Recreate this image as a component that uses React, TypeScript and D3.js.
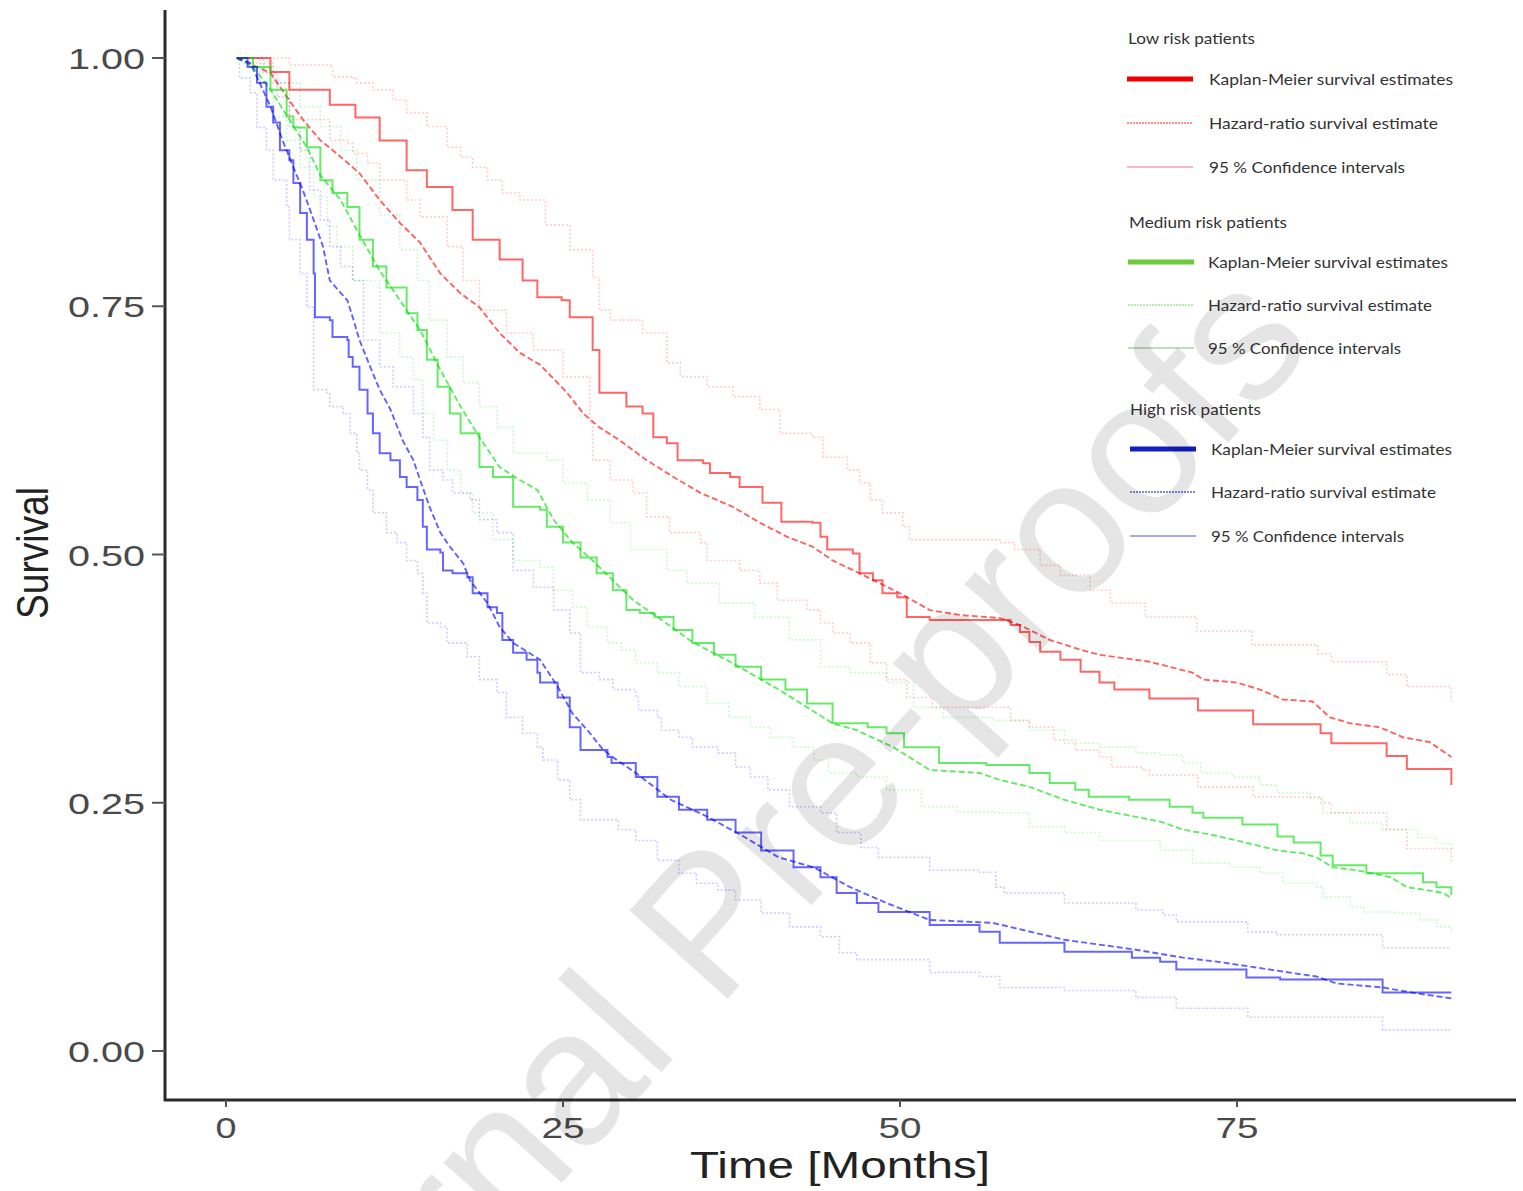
import React, { useEffect, useRef } from 'react';
import * as d3 from 'd3';

type Pt = [number, number];

// time (months), survival
const xTicks = [0, 25, 50, 75];
const yTicks = [0, 0.25, 0.5, 0.75, 1];

const lowKM: Pt[] = [[0.8, 1], [3.3, 0.986], [4.7, 0.968], [7.7, 0.953], [9.6, 0.94], [11.4, 0.917], [13.4, 0.887], [14.9, 0.87], [16.8, 0.847], [18.3, 0.817], [20.3, 0.797], [22.0, 0.776], [23.1, 0.759], [24.9, 0.756], [25.5, 0.739], [27.2, 0.706], [27.7, 0.663], [29.7, 0.649], [30.9, 0.642], [31.7, 0.618], [32.7, 0.612], [33.5, 0.595], [35.4, 0.592], [35.9, 0.582], [37.4, 0.578], [38.1, 0.568], [39.8, 0.552], [41.2, 0.533], [43.5, 0.532], [44.1, 0.518], [44.6, 0.505], [46.5, 0.501], [47.0, 0.481], [48.0, 0.474], [48.7, 0.461], [49.8, 0.457], [50.5, 0.437], [52.2, 0.434], [58.2, 0.429], [58.9, 0.422], [59.6, 0.412], [60.4, 0.402], [61.9, 0.394], [63.4, 0.382], [64.8, 0.371], [65.9, 0.364], [68.5, 0.355], [72.1, 0.343], [76.2, 0.329], [81.2, 0.32], [82.0, 0.31], [86.1, 0.297], [87.6, 0.284], [90.9, 0.268]];
const lowHR: Pt[] = [[0.8, 1], [3.3, 0.985], [4.5, 0.961], [5.7, 0.938], [7.0, 0.917], [8.2, 0.904], [9.9, 0.884], [11.4, 0.857], [12.9, 0.834], [14.4, 0.814], [15.9, 0.783], [17.4, 0.763], [18.8, 0.749], [20.3, 0.723], [21.8, 0.703], [23.3, 0.691], [25.3, 0.663], [26.5, 0.642], [27.7, 0.628], [29.2, 0.615], [31.2, 0.595], [33.2, 0.578], [35.2, 0.562], [37.6, 0.548], [39.6, 0.532], [41.6, 0.518], [43.5, 0.508], [45.0, 0.494], [47.0, 0.481], [50.0, 0.461], [52.2, 0.444], [54.5, 0.439], [57.4, 0.436], [58.9, 0.429], [61.1, 0.414], [63.4, 0.404], [64.8, 0.399], [68.5, 0.392], [71.7, 0.381], [72.5, 0.374], [75.0, 0.371], [76.7, 0.364], [78.4, 0.354], [80.6, 0.352], [81.9, 0.336], [83.4, 0.33], [85.6, 0.326], [87.3, 0.316], [89.3, 0.311], [90.9, 0.296]];
const lowCIUp: Pt[] = [[0.8, 1], [4.7, 0.993], [7.9, 0.981], [9.4, 0.98], [9.7, 0.975], [10.9, 0.968], [12.4, 0.958], [13.4, 0.945], [14.9, 0.931], [16.4, 0.91], [17.4, 0.9], [18.3, 0.89], [19.4, 0.877], [20.5, 0.864], [21.8, 0.857], [23.7, 0.832], [25.5, 0.807], [27.2, 0.779], [27.7, 0.746], [28.5, 0.736], [30.9, 0.723], [32.7, 0.693], [33.7, 0.679], [35.7, 0.669], [37.6, 0.659], [39.6, 0.646], [41.1, 0.622], [43.5, 0.618], [44.3, 0.598], [46.1, 0.585], [47.0, 0.572], [47.8, 0.555], [48.7, 0.542], [50.2, 0.528], [50.7, 0.515], [57.4, 0.512], [58.5, 0.505], [60.4, 0.489], [61.9, 0.479], [64.1, 0.464], [65.6, 0.451], [68.2, 0.437], [72.0, 0.423], [76.1, 0.409], [81.0, 0.4], [82.0, 0.392], [86.1, 0.379], [87.6, 0.367], [90.9, 0.353]];
const lowCILow: Pt[] = [[0.8, 1], [2.0, 0.995], [3.5, 0.975], [4.7, 0.938], [7.7, 0.917], [9.0, 0.914], [9.4, 0.904], [10.5, 0.894], [11.4, 0.877], [13.4, 0.857], [14.4, 0.84], [16.4, 0.81], [17.6, 0.776], [18.8, 0.746], [20.8, 0.723], [22.8, 0.706], [25.0, 0.679], [27.0, 0.632], [27.2, 0.595], [28.5, 0.575], [30.2, 0.562], [31.2, 0.538], [32.9, 0.522], [35.2, 0.512], [35.7, 0.494], [38.1, 0.484], [39.6, 0.471], [40.9, 0.454], [43.1, 0.444], [44.1, 0.431], [45.0, 0.421], [46.3, 0.411], [47.8, 0.391], [49.0, 0.374], [50.5, 0.356], [52.4, 0.346], [58.2, 0.333], [59.6, 0.326], [61.4, 0.313], [63.0, 0.303], [64.8, 0.296], [65.7, 0.286], [68.0, 0.283], [68.5, 0.278], [72.1, 0.266], [76.2, 0.256], [81.2, 0.25], [82.0, 0.24], [86.1, 0.223], [87.6, 0.204], [90.9, 0.189]];

const midKM: Pt[] = [[0.8, 1], [2.0, 0.991], [3.3, 0.968], [4.5, 0.941], [5.0, 0.93], [6.0, 0.91], [7.0, 0.877], [7.9, 0.864], [9.0, 0.85], [9.9, 0.817], [10.9, 0.79], [11.9, 0.769], [13.4, 0.743], [14.2, 0.726], [14.9, 0.696], [15.7, 0.669], [16.6, 0.642], [17.4, 0.622], [18.8, 0.588], [19.8, 0.578], [21.3, 0.548], [23.3, 0.545], [23.8, 0.528], [25.0, 0.512], [26.3, 0.497], [27.5, 0.481], [28.7, 0.464], [29.7, 0.444], [30.7, 0.441], [31.8, 0.437], [33.2, 0.424], [34.6, 0.411], [36.2, 0.399], [37.8, 0.387], [39.7, 0.374], [41.5, 0.364], [43.1, 0.35], [45.0, 0.33], [47.6, 0.326], [49.0, 0.32], [50.3, 0.306], [52.9, 0.29], [56.4, 0.288], [59.6, 0.28], [61.1, 0.27], [63.0, 0.263], [64.0, 0.256], [67.0, 0.253], [70.0, 0.246], [71.7, 0.24], [72.5, 0.235], [75.4, 0.228], [78.0, 0.216], [79.2, 0.21], [81.2, 0.197], [82.1, 0.187], [84.6, 0.179], [88.8, 0.17], [89.8, 0.165], [90.9, 0.157]];
const midHR: Pt[] = [[0.8, 1], [2.0, 0.991], [3.3, 0.968], [4.7, 0.938], [6.0, 0.91], [7.0, 0.882], [8.5, 0.857], [9.9, 0.822], [11.4, 0.786], [12.9, 0.756], [14.4, 0.726], [15.9, 0.686], [17.4, 0.649], [18.8, 0.618], [20.3, 0.588], [21.8, 0.575], [23.1, 0.565], [24.3, 0.535], [25.7, 0.512], [27.2, 0.494], [28.7, 0.474], [30.2, 0.454], [31.8, 0.439], [34.6, 0.412], [37.8, 0.389], [41.0, 0.364], [45.0, 0.33], [46.8, 0.323], [49.5, 0.306], [52.2, 0.283], [55.9, 0.28], [57.4, 0.273], [59.6, 0.266], [62.2, 0.253], [64.8, 0.243], [69.3, 0.231], [71.0, 0.223], [73.0, 0.218], [75.0, 0.212], [76.5, 0.207], [78.0, 0.202], [79.9, 0.199], [80.9, 0.195], [82.1, 0.185], [83.9, 0.182], [86.4, 0.175], [87.6, 0.165], [89.1, 0.162], [90.3, 0.159], [90.9, 0.154]];
const midCIUp: Pt[] = [[0.8, 1], [2.0, 0.991], [4.0, 0.975], [5.5, 0.951], [7.0, 0.931], [8.5, 0.907], [9.7, 0.877], [11.4, 0.842], [12.9, 0.807], [14.2, 0.776], [15.1, 0.736], [16.4, 0.699], [17.6, 0.673], [18.8, 0.649], [20.1, 0.628], [21.3, 0.602], [23.8, 0.595], [25.0, 0.572], [26.8, 0.555], [28.5, 0.532], [30.0, 0.505], [32.7, 0.484], [34.2, 0.471], [36.6, 0.451], [39.2, 0.437], [41.8, 0.414], [44.1, 0.387], [46.3, 0.381], [49.0, 0.371], [51.0, 0.346], [53.2, 0.336], [56.9, 0.333], [59.6, 0.323], [62.2, 0.31], [64.8, 0.306], [67.5, 0.3], [69.3, 0.298], [71.0, 0.29], [72.3, 0.28], [74.7, 0.276], [76.7, 0.268], [78.0, 0.26], [80.4, 0.255], [81.4, 0.24], [83.4, 0.23], [85.8, 0.223], [88.4, 0.215], [89.8, 0.209], [90.9, 0.202]];
const midCILow: Pt[] = [[0.8, 1], [2.5, 0.968], [3.5, 0.941], [4.5, 0.917], [5.5, 0.89], [6.5, 0.86], [7.5, 0.83], [8.2, 0.81], [9.4, 0.776], [11.4, 0.723], [12.9, 0.699], [13.9, 0.676], [14.6, 0.642], [15.4, 0.615], [16.4, 0.585], [17.4, 0.562], [18.3, 0.542], [19.8, 0.515], [21.3, 0.494], [23.3, 0.487], [24.3, 0.464], [25.7, 0.447], [26.8, 0.427], [28.3, 0.411], [29.3, 0.404], [30.4, 0.391], [32.0, 0.381], [33.6, 0.367], [35.7, 0.35], [37.3, 0.336], [38.9, 0.326], [40.4, 0.316], [42.1, 0.306], [43.6, 0.293], [44.7, 0.28], [46.8, 0.276], [49.0, 0.263], [51.6, 0.246], [54.2, 0.241], [56.9, 0.24], [59.6, 0.226], [62.2, 0.22], [64.8, 0.212], [69.3, 0.202], [71.7, 0.189], [74.5, 0.185], [76.7, 0.179], [78.4, 0.169], [80.9, 0.165], [81.4, 0.155], [83.4, 0.145], [84.4, 0.14], [86.6, 0.139], [88.6, 0.132], [89.8, 0.125], [90.9, 0.119]];

const highKM: Pt[] = [[0.8, 1], [1.6, 0.991], [2.3, 0.975], [3.0, 0.951], [3.5, 0.935], [4.0, 0.907], [4.7, 0.897], [5.0, 0.874], [5.5, 0.844], [6.0, 0.817], [6.5, 0.783], [6.6, 0.739], [7.7, 0.736], [7.9, 0.719], [9.0, 0.716], [9.1, 0.699], [9.4, 0.689], [9.9, 0.666], [10.5, 0.642], [10.9, 0.622], [11.4, 0.602], [12.2, 0.595], [12.9, 0.578], [13.4, 0.568], [14.2, 0.555], [14.6, 0.528], [14.9, 0.505], [15.9, 0.502], [16.1, 0.484], [16.8, 0.481], [17.9, 0.477], [18.3, 0.461], [19.4, 0.447], [20.1, 0.441], [20.5, 0.414], [21.3, 0.401], [22.3, 0.394], [23.1, 0.381], [23.3, 0.371], [24.6, 0.356], [25.5, 0.326], [26.3, 0.303], [28.3, 0.296], [28.6, 0.29], [30.4, 0.276], [32.0, 0.256], [33.6, 0.243], [35.7, 0.233], [37.8, 0.22], [39.7, 0.202], [42.1, 0.185], [44.1, 0.175], [45.3, 0.159], [46.8, 0.149], [48.4, 0.14], [52.2, 0.127], [55.9, 0.12], [57.4, 0.109], [62.2, 0.1], [67.2, 0.094], [69.3, 0.09], [70.5, 0.082], [75.7, 0.074], [78.2, 0.072], [85.8, 0.059], [90.9, 0.059]];
const highHR: Pt[] = [[0.8, 1], [1.8, 0.995], [2.5, 0.975], [3.3, 0.951], [4.2, 0.917], [5.0, 0.89], [5.7, 0.867], [6.5, 0.837], [7.2, 0.81], [7.7, 0.776], [9.0, 0.756], [9.4, 0.739], [9.9, 0.716], [10.7, 0.689], [11.4, 0.666], [12.2, 0.646], [13.1, 0.615], [13.9, 0.595], [14.4, 0.575], [15.1, 0.548], [15.9, 0.522], [16.6, 0.508], [17.6, 0.491], [18.1, 0.474], [19.4, 0.451], [20.3, 0.427], [21.3, 0.411], [23.3, 0.394], [24.6, 0.367], [25.7, 0.34], [27.0, 0.32], [28.0, 0.303], [29.0, 0.293], [30.4, 0.28], [33.0, 0.253], [35.7, 0.236], [38.4, 0.216], [41.0, 0.195], [43.6, 0.185], [46.3, 0.165], [49.0, 0.149], [52.2, 0.132], [56.9, 0.129], [62.2, 0.112], [67.5, 0.102], [71.0, 0.094], [73.5, 0.09], [76.0, 0.085], [78.4, 0.08], [80.9, 0.075], [82.4, 0.068], [85.8, 0.064], [88.4, 0.058], [90.9, 0.053]];
const highCIUp: Pt[] = [[0.8, 1], [2.5, 1], [2.8, 0.985], [3.8, 0.961], [4.7, 0.931], [5.5, 0.907], [6.2, 0.867], [7.0, 0.837], [7.7, 0.81], [8.5, 0.79], [9.4, 0.776], [10.2, 0.716], [11.4, 0.689], [12.4, 0.669], [13.9, 0.642], [14.6, 0.618], [15.1, 0.585], [16.1, 0.575], [16.8, 0.562], [18.1, 0.555], [18.8, 0.535], [20.1, 0.522], [21.3, 0.484], [22.8, 0.467], [24.3, 0.444], [25.5, 0.421], [26.3, 0.381], [27.7, 0.374], [28.7, 0.364], [30.4, 0.356], [30.6, 0.343], [32.0, 0.336], [32.3, 0.323], [33.6, 0.316], [34.6, 0.306], [36.5, 0.3], [37.8, 0.286], [38.9, 0.276], [40.2, 0.263], [41.8, 0.246], [44.1, 0.24], [45.3, 0.22], [47.1, 0.205], [48.4, 0.195], [52.2, 0.182], [55.9, 0.18], [57.1, 0.165], [57.7, 0.159], [62.2, 0.149], [67.5, 0.142], [69.5, 0.137], [70.5, 0.13], [75.8, 0.12], [78.0, 0.117], [85.8, 0.104], [90.9, 0.104]];
const highCILow: Pt[] = [[0.8, 1], [1.0, 0.98], [1.8, 0.965], [2.3, 0.93], [3.0, 0.907], [3.5, 0.877], [4.5, 0.85], [4.7, 0.817], [5.5, 0.783], [6.0, 0.749], [6.5, 0.666], [7.5, 0.663], [7.7, 0.649], [8.7, 0.642], [9.2, 0.622], [9.7, 0.602], [9.9, 0.585], [10.5, 0.565], [10.9, 0.542], [11.9, 0.522], [12.7, 0.512], [13.4, 0.494], [14.2, 0.481], [14.6, 0.461], [14.9, 0.431], [15.9, 0.427], [16.4, 0.411], [17.9, 0.397], [18.8, 0.374], [20.1, 0.361], [20.8, 0.336], [22.0, 0.32], [23.1, 0.306], [23.5, 0.293], [24.6, 0.273], [25.5, 0.253], [26.3, 0.233], [29.1, 0.223], [30.4, 0.212], [32.0, 0.192], [33.6, 0.179], [34.9, 0.169], [36.5, 0.162], [37.8, 0.152], [39.7, 0.139], [41.8, 0.125], [44.1, 0.115], [45.5, 0.099], [46.8, 0.092], [52.2, 0.079], [55.9, 0.075], [57.4, 0.064], [62.2, 0.061], [67.5, 0.054], [70.5, 0.043], [75.8, 0.034], [85.8, 0.021], [90.9, 0.021]];

const groupTitles = ['Low risk patients', 'Medium risk patients', 'High risk patients'];
const itemLabels = ['Kaplan-Meier survival estimates', 'Hazard-ratio survival estimate', '95 % Confidence intervals'];

const groups = [
  { km: lowKM, hr: lowHR, up: lowCIUp, low: lowCILow, color: '#ff0000', key: '#ee0000', hrKey: '#ff6a6a', ciKey: '#f5a0a8' },
  { km: midKM, hr: midHR, up: midCIUp, low: midCILow, color: '#00dd00', key: '#6ccc3c', hrKey: '#a8e0a0', ciKey: '#a8d0a8' },
  { km: highKM, hr: highHR, up: highCIUp, low: highCILow, color: '#0000ff', key: '#1020c0', hrKey: '#6060d8', ciKey: '#8c8ce8' },
];

const W = 1523;
const H = 1191;

export default function App() {
  const ref = useRef<SVGSVGElement>(null);

  useEffect(() => {
    const svg = d3.select(ref.current);
    svg.selectAll('*').remove();

    const x = d3.scaleLinear().domain([0, 100]).range([226, 1574]);
    const y = d3.scaleLinear().domain([0, 1]).range([1051, 58]);

    const stepLine = d3.line<Pt>().x(d => x(d[0])).y(d => y(d[1])).curve(d3.curveStepAfter);
    const hrLine = d3.line<Pt>().x(d => x(d[0])).y(d => y(d[1]));

    svg.append('rect').attr('width', W).attr('height', H).attr('fill', '#fff');

    const plot = svg.append('g');

    // confidence intervals first, then hazard-ratio, then KM on top
    groups.forEach(g => {
      [g.up, g.low].forEach(arr => {
        plot.append('path')
          .attr('d', stepLine(arr))
          .attr('fill', 'none')
          .attr('stroke', g.color)
          .attr('stroke-opacity', 0.2)
          .attr('stroke-width', 1.6)
          .attr('stroke-dasharray', '2,2');
      });
    });
    groups.forEach(g => {
      plot.append('path')
        .attr('d', hrLine(g.hr))
        .attr('fill', 'none')
        .attr('stroke', g.color)
        .attr('stroke-opacity', 0.62)
        .attr('stroke-width', 1.9)
        .attr('stroke-dasharray', '6,3');
    });
    groups.forEach(g => {
      plot.append('path')
        .attr('d', stepLine(g.km))
        .attr('fill', 'none')
        .attr('stroke', g.color)
        .attr('stroke-opacity', 0.6)
        .attr('stroke-width', 2);
    });

    // axes
    const axisColor = '#2b2b2b';
    svg.append('line').attr('x1', 165).attr('x2', 165).attr('y1', 10).attr('y2', 1101)
      .attr('stroke', axisColor).attr('stroke-width', 3);
    svg.append('line').attr('x1', 164).attr('x2', 1516).attr('y1', 1100).attr('y2', 1100)
      .attr('stroke', axisColor).attr('stroke-width', 3);

    const fmt = d3.format('.2f');
    yTicks.forEach(t => {
      svg.append('line').attr('x1', 152).attr('x2', 165).attr('y1', y(t)).attr('y2', y(t))
        .attr('stroke', '#555').attr('stroke-width', 2);
      svg.append('text')
        .attr('x', 68).attr('y', y(t) + 11)
        .attr('font-family', 'Liberation Sans, Arial, sans-serif')
        .attr('font-size', 30)
        .attr('fill', '#4a4a4a')
        .attr('textLength', 77).attr('lengthAdjust', 'spacingAndGlyphs')
        .text(fmt(t));
    });
    xTicks.forEach(t => {
      const label = String(t);
      const len = label.length === 1 ? 21 : 43;
      svg.append('line').attr('x1', x(t)).attr('x2', x(t)).attr('y1', 1100).attr('y2', 1107)
        .attr('stroke', '#555').attr('stroke-width', 2);
      svg.append('text')
        .attr('x', x(t) - len / 2).attr('y', 1138)
        .attr('font-family', 'Liberation Sans, Arial, sans-serif')
        .attr('font-size', 30)
        .attr('fill', '#4a4a4a')
        .attr('textLength', len).attr('lengthAdjust', 'spacingAndGlyphs')
        .text(label);
    });

    svg.append('text')
      .attr('x', 690).attr('y', 1178)
      .attr('font-family', 'Liberation Sans, Arial, sans-serif')
      .attr('font-size', 36)
      .attr('fill', '#222')
      .attr('textLength', 300).attr('lengthAdjust', 'spacingAndGlyphs')
      .text('Time [Months]');

    svg.append('text')
      .attr('transform', 'translate(48,553) scale(1.3,1) rotate(-90)')
      .attr('text-anchor', 'middle')
      .attr('font-family', 'Liberation Sans, Arial, sans-serif')
      .attr('font-size', 34)
      .attr('fill', '#222')
      .attr('textLength', 132).attr('lengthAdjust', 'spacingAndGlyphs')
      .text('Survival');

    // legend
    const legend = svg.append('g').attr('font-family', 'Lato, Open Sans, sans-serif').attr('fill', '#333');
    const titleY = [38, 222, 409];
    const rowY = [[79, 123, 167], [262, 305, 348], [449, 492, 536]];
    const titleX = [1128, 1129, 1130];
    const swX = [1127, 1128, 1130];
    const txtX = [1209, 1208, 1211];
    const titleLen = [127, 158, 131];
    const itemLen = [[244, 229, 196], [240, 224, 193], [241, 225, 193]];
    groups.forEach((g, gi) => {
      legend.append('text')
        .attr('x', titleX[gi]).attr('y', titleY[gi] + 6)
        .attr('font-size', 16)
        .attr('textLength', titleLen[gi]).attr('lengthAdjust', 'spacingAndGlyphs')
        .text(groupTitles[gi]);
      itemLabels.forEach((lab, li) => {
        const yy = rowY[gi][li];
        const sw = legend.append('line')
          .attr('x1', swX[gi]).attr('x2', swX[gi] + 66)
          .attr('y1', yy).attr('y2', yy);
        if (li === 0) sw.attr('stroke', g.key).attr('stroke-width', 5);
        else if (li === 1) sw.attr('stroke', g.hrKey).attr('stroke-width', 1.3).attr('stroke-dasharray', '2,1');
        else sw.attr('stroke', g.ciKey).attr('stroke-width', 1.3);
        legend.append('text')
          .attr('x', txtX[gi]).attr('y', yy + 6)
          .attr('font-size', 16)
          .attr('textLength', itemLen[gi][li]).attr('lengthAdjust', 'spacingAndGlyphs')
          .text(lab);
      });
    });

    // watermark
    svg.append('text')
      .attr('transform', 'translate(260,1518) rotate(-48)')
      .attr('font-family', 'Liberation Sans, Arial, sans-serif')
      .attr('font-size', 192)
      .attr('fill', '#000')
      .attr('fill-opacity', 0.1)
      .text('Journal Pre-proofs');
  }, []);

  return (
    <svg ref={ref} width={W} height={H} style={{ position: 'absolute', left: 0, top: 0 }} />
  );
}
